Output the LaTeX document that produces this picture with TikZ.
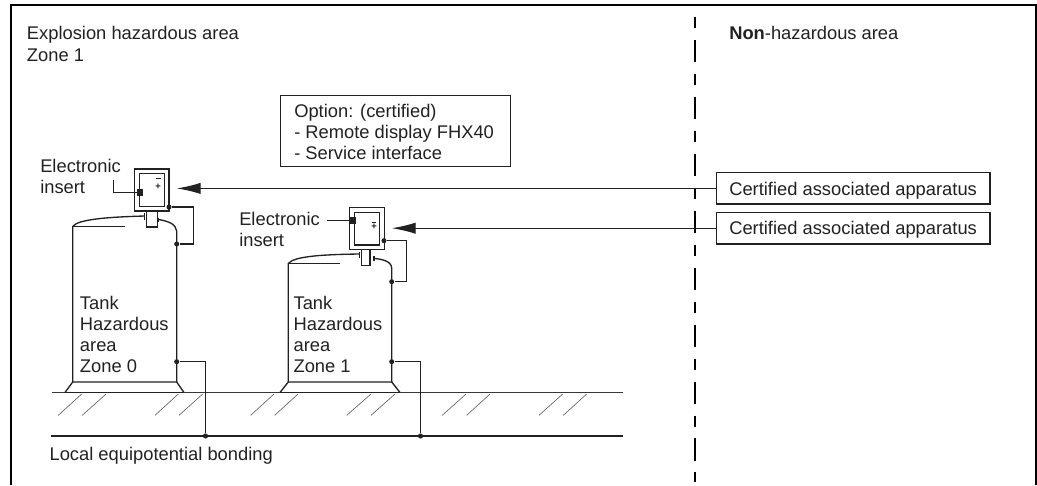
\documentclass[tikz,border=0pt]{standalone}
\usepackage{fontspec}
\setmainfont{Liberation Sans}
\usetikzlibrary{arrows.meta}
\definecolor{ink}{gray}{0.13}
\tikzset{
  lbl/.style={anchor=base west,inner sep=0pt,text=ink,font=\fontsize{13.75pt}{15.75pt}\selectfont},
  cbox/.style={draw=ink,line width=1pt,fill=white,inner sep=0pt},
  wire/.style={draw=ink,line width=0.95pt},
  tankline/.style={draw=ink,line width=1pt},
  hatch/.style={draw=ink!70,line width=0.5pt},
  junction/.style={circle,fill=ink,inner sep=0pt,minimum size=3.8pt},
  bigarrow/.style={draw=ink,line width=0.95pt,-{Latex[length=18pt,width=8.5pt,sharp]}},
}
\begin{document}
\begin{tikzpicture}[x=0.75pt,y=-0.75pt]
\useasboundingbox (0,0) rectangle (1037,485);
% frame, open at the bottom
\draw[black,line width=1.5pt] (10.5,485) -- (10.5,5) -- (1036.2,5) -- (1036.2,485);
% zone boundary
\draw[black,line width=1.5pt,dash pattern=on 8.6pt off 8.6pt on 16.9pt off 8.6pt] (694.5,17) -- (694.5,482);
% ground
\draw[draw=ink!90,line width=1.2pt] (52,392.5) -- (622.5,392.5);
\draw[draw=ink,line width=1.3pt] (50.5,436) -- (622.5,436);
\foreach \a/\b in {58.3/81.7,82.3/106,155/178.3,179/202.7,250.7/274,274.7/298,346.7/371,371/395,442.3/466,466.7/490,539/562.7,563.3/586.7}
  \draw[hatch] (\a,415.3) -- (\b,394);
% tank 1
\draw[tankline] (144.7,216) .. controls (110,217) and (78,219) .. (72.7,226.5) -- (72.7,382);
\draw[tankline] (72.7,226.5) -- (125,226.5);
\draw[tankline] (144.5,213) -- (144.5,220);
\draw[tankline] (158.3,217.5) -- (158.3,221.7);
\draw[tankline] (158.3,219.5) .. controls (168,221) and (176,224) .. (176.7,231) -- (176.7,382);
\draw[tankline,line join=miter] (65,392.5) -- (72.7,382) -- (176.7,382) -- (184,392.5);
\draw[tankline] (65,392.5) -- (184,392.5);
% tank 2
\draw[tankline] (359.3,254) .. controls (325,254.5) and (294,256) .. (288.3,263.5) -- (288.3,382);
\draw[tankline] (288.3,263.5) -- (340,263.5);
\draw[tankline] (359.3,251.7) -- (359.3,258.3);
\draw[tankline] (374,256) -- (374,260.7);
\draw[tankline] (374,258.3) .. controls (383,259.5) and (391,261) .. (391.7,268) -- (391.7,382);
\draw[tankline,line join=miter] (280,392.5) -- (288.3,382) -- (391.7,382) -- (400,392.5);
\draw[tankline] (280,392.5) -- (400,392.5);
% devices 1
\node[cbox,minimum width=25.9pt,minimum height=31.3pt] (dev1) at (151.7,190) {};
\node[cbox,minimum width=18.8pt,minimum height=24.8pt] (ins1) at (151.8,190.2) {};
\draw[tankline] (146.7,210.7) -- (146.7,227) -- (157.7,227) -- (157.7,210.7);
\node[fill=ink,inner sep=0pt,minimum width=4pt,minimum height=5pt] (sq1) at (140,192.3) {};
\coordinate (lead1) at (113.3,180);
\draw[wire] (lead1) |- (sq1.west);
\fill[ink] (156,177.7) rectangle (160.7,179);
\node[lbl,anchor=center,font=\fontsize{7pt}{7pt}\bfseries\selectfont] (plus1) at (158.2,186.4) {+};
% device 2
\node[cbox,minimum width=26.2pt,minimum height=31.5pt] (dev2) at (366.8,228.3) {};
\node[cbox,minimum width=18.8pt,minimum height=24.5pt] (ins2) at (366.8,228.6) {};
\draw[tankline] (361.7,249.3) -- (361.7,265.3) -- (370,265.3) -- (370,249.3);
\node[fill=ink,inner sep=0pt,minimum width=5pt,minimum height=5.5pt] (sq2) at (352.7,220.3) {};
\coordinate (lead2) at (326.7,220.3);
\draw[wire] (lead2) -- (sq2.west);
\fill[ink] (371.7,221.7) rectangle (376.3,223);
\node[lbl,anchor=center,font=\fontsize{7pt}{7pt}\bfseries\selectfont] (plus2) at (374,227) {+};
% junctions and bonding wires
\node[junction] (a1) at (169,207) {};
\node[junction] (b1) at (176.7,244) {};
\draw[wire] (a1) -| (193.5,244) -- (b1);
\node[junction] (c1) at (176.7,361.7) {};
\node[junction] (d1) at (205.5,436) {};
\draw[wire] (c1) -| (d1);
\node[junction] (a2) at (384,240.7) {};
\node[junction] (b2) at (391.7,281.7) {};
\draw[wire] (a2) -| (406.5,281.7) -- (b2);
\node[junction] (c2) at (391.7,361.7) {};
\node[junction] (d2) at (420.5,436) {};
\draw[wire] (c2) -| (d2);
% apparatus boxes
\node[cbox,minimum width=204.8pt,minimum height=23.5pt] (app1) at (853.3,188.4) {};
\node[cbox,minimum width=204.8pt,minimum height=23.9pt] (app2) at (853.3,228.2) {};
\coordinate (tip1) at (176.7,188.4);
\coordinate (tip2) at (391.7,228.2);
\draw[bigarrow] (app1.west) -- (tip1);
\draw[bigarrow] (app2.west) -- (tip2);
% texts
\node[lbl] (t1) at (729,195.3) {Certified associated apparatus};
\node[lbl] (t2) at (729,234) {Certified associated apparatus};
\node[lbl] (z1) at (26.7,40) {Explosion hazardous area};
\node[lbl] (z2) at (26.7,61) {Zone 1};
\node[lbl] (n1) at (729,40) {\textbf{Non}-hazardous area};
\node[lbl] (e1) at (40,172.7) {Electronic};
\node[lbl] (e2) at (40,193.3) {insert};
\node[lbl] (e3) at (239,225) {Electronic};
\node[lbl] (e4) at (239,246) {insert};
\node[lbl] (l1) at (49.3,460.7) {Local equipotential bonding};
\foreach \x/\n/\z in {79.7/a/0,293.3/b/1}{
  \node[lbl] (tk\n1) at (\x,309) {Tank};
  \node[lbl] (tk\n2) at (\x,330) {Hazardous};
  \node[lbl] (tk\n3) at (\x,351) {area};
  \node[lbl] (tk\n4) at (\x,372) {Zone \z};
}
% option box
\node[cbox,minimum width=172.5pt,minimum height=53.25pt] (opt) at (395.7,131.2) {};
\node[lbl] (o1) at (294,117.3) {Option: (certified)};
\node[lbl] (o2) at (294,138.3) {- Remote display FHX40};
\node[lbl] (o3) at (294,159) {- Service interface};
\end{tikzpicture}
\end{document}
